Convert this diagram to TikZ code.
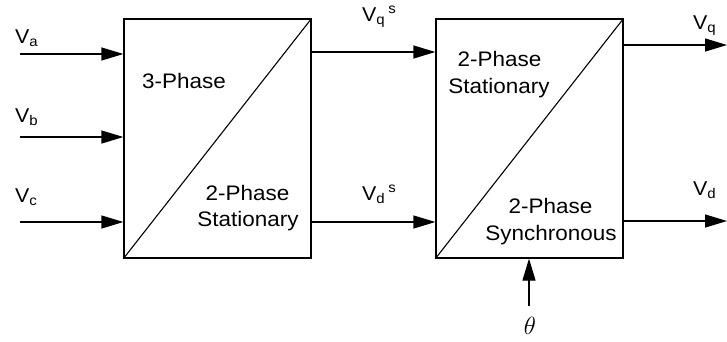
\documentclass[tikz,border=0pt]{standalone}
\usepackage{fontspec}
\setmainfont[FakeStretch=1.07]{Liberation Sans}
\usetikzlibrary{arrows.meta}
\begin{document}
\begin{tikzpicture}[x=1pt,y=-1pt,
  box/.style={draw,line width=1.3pt,minimum width=187pt,minimum height=239pt,inner sep=0pt},
  arr/.style={line width=1.3pt,-{Triangle[length=22pt,width=13pt]}},
  diag/.style={line width=1.1pt},
  lbl/.style={inner sep=0pt,anchor=base west,font=\fontsize{20}{22}\selectfont},
  txt/.style={inner sep=0pt,anchor=base,font=\fontsize{21}{25}\selectfont}]
\useasboundingbox (0,0) rectangle (727,341);
% boxes
\node[box] (b1) at (217.5,138.5) {};
\node[box] (b2) at (529.5,138.5) {};
\draw[diag] (b1.south west) -- (b1.north east);
\draw[diag] (b2.south west) -- (b2.north east);
% box texts
\node[txt,anchor=base west] (t1) at (142,88) {3-Phase};
\node[txt] (t2) at (247.5,200) {2-Phase};
\node[txt] (t3) at (248,226) {Stationary};
\node[txt] (t4) at (499.5,66) {2-Phase};
\node[txt] (t5) at (499,93) {Stationary};
\node[txt] (t6) at (550.5,213) {2-Phase};
\node[txt] (t7) at (551,240) {Synchronous};
% inputs
\coordinate (va) at (20,54);
\coordinate (vb) at (20,137);
\coordinate (vc) at (20,222);
\draw[arr] (va) -- (va -| b1.west);
\draw[arr] (vb) -- (vb -| b1.west);
\draw[arr] (vc) -- (vc -| b1.west);
\node[lbl] (la) at (15,43) {V\textsubscript{a}};
\node[lbl] (lb) at (15,122) {V\textsubscript{b}};
\node[lbl] (lc) at (15,202) {V\textsubscript{c}};
% middle
\coordinate (mq) at (311,52);
\coordinate (md) at (311,222);
\draw[arr] (mq) -- (mq -| b2.west);
\draw[arr] (md) -- (md -| b2.west);
\node[lbl] (lqs) at (362,21) {V\textsubscript{q}\hspace{3pt}\textsuperscript{s}};
\node[lbl] (lds) at (362,200) {V\textsubscript{d}\hspace{3pt}\textsuperscript{s}};
% outputs
\coordinate (oq) at (727,45);
\coordinate (od) at (727,221);
\draw[arr] (oq -| b2.east) -- (oq);
\draw[arr] (od -| b2.east) -- (od);
\node[lbl] (lq) at (693,29) {V\textsubscript{q}};
\node[lbl] (ld) at (693,195) {V\textsubscript{d}};
% theta
\coordinate (th) at (529,306);
\draw[arr] (th) -- (th |- b2.south);
\node[inner sep=0pt,font=\fontsize{26}{28}\selectfont] (lth) at (530,326) {$\theta$};
\end{tikzpicture}
\end{document}
